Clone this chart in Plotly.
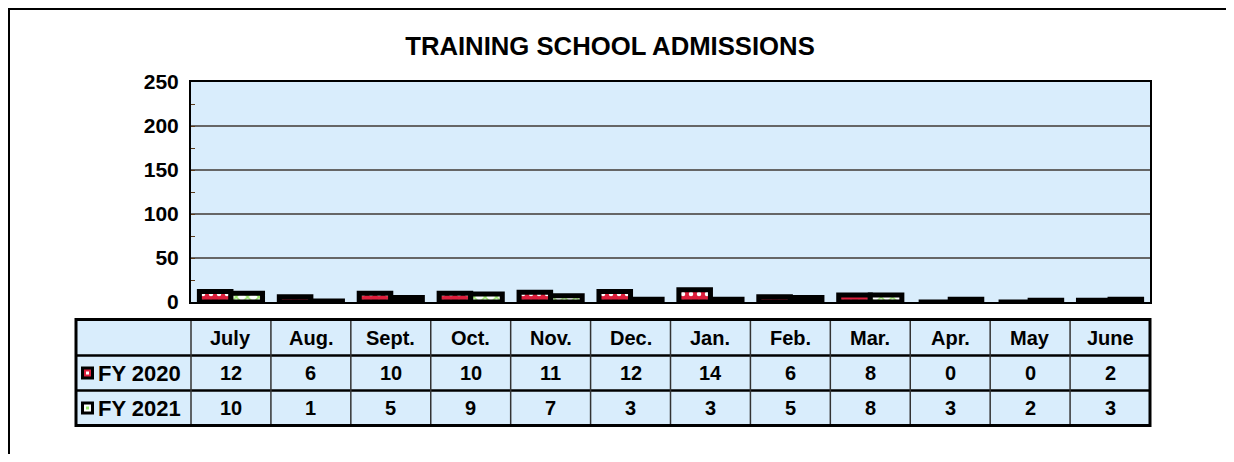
import plotly.graph_objects as go

months = ["July", "Aug.", "Sept.", "Oct.", "Nov.", "Dec.", "Jan.", "Feb.", "Mar.", "Apr.", "May", "June"]
fy2020 = [12, 6, 10, 10, 11, 12, 14, 6, 8, 0, 0, 2]
fy2021 = [10, 1, 5, 9, 7, 3, 3, 5, 8, 3, 2, 3]
series_names = ["FY 2020", "FY 2021"]
title_text = "TRAINING SCHOOL ADMISSIONS"

# page has an 8px body margin: figure starts at page (8, 8)
OFF = 8
W, H = 1234 - 2 * OFF, 462 - 2 * OFF
# plot area in page pixels
PL, PR, PT, PB = 191, 1150, 82, 302
pw, ph = PR - PL, PB - PT

def px_x(px):
    return (px - PL) / pw

def px_y(py):
    return (PB - py) / ph

FONT = "Liberation Sans, Arial, sans-serif"
BG = "#d9edfc"
RED = "#dc1f3c"
GREEN = "#9be86a"

fig = go.Figure()
fig.add_trace(go.Bar(
    x=list(range(len(months))), y=fy2020, name=series_names[0],
    marker=dict(color=RED, line=dict(color="black", width=5),
                pattern=dict(shape=".", fgcolor="white", bgcolor=RED, size=8, solidity=0.25,
                             fillmode="replace")),
    showlegend=False,
))
fig.add_trace(go.Bar(
    x=list(range(len(months))), y=fy2021, name=series_names[1],
    marker=dict(color="white", line=dict(color="black", width=5),
                pattern=dict(shape="x", fgcolor=GREEN, bgcolor="white", size=8, solidity=0.35,
                             fillmode="replace")),
    showlegend=False,
))

shapes = []
annotations = []

# outer frame: only top and left edges fall inside the window
shapes.append(dict(type="line", xref="paper", yref="paper",
                   x0=px_x(OFF + 1), x1=px_x(1240), y0=px_y(OFF + 1), y1=px_y(OFF + 1),
                   line=dict(color="black", width=2), layer="below"))
shapes.append(dict(type="line", xref="paper", yref="paper",
                   x0=px_x(OFF + 1), x1=px_x(OFF + 1), y0=px_y(OFF), y1=px_y(470),
                   line=dict(color="black", width=2), layer="below"))

# table geometry (page pixels)
t_left = 76
rows_px = [319.5, 355.5, 390.5, 425.5]
ty = [px_y(v) for v in rows_px]

shapes.append(dict(type="rect", xref="paper", yref="paper",
                   x0=px_x(t_left), x1=1, y0=ty[3], y1=ty[0],
                   fillcolor=BG, line=dict(width=0), layer="below"))
for k in (1, 2):
    shapes.append(dict(type="line", xref="paper", yref="paper",
                       x0=px_x(t_left), x1=1, y0=ty[k], y1=ty[k],
                       line=dict(color="black", width=2.5)))
shapes.append(dict(type="line", xref="paper", yref="paper",
                   x0=0, x1=0, y0=ty[3], y1=ty[0], line=dict(color="#333333", width=1.5)))
for i in range(len(months) - 1):
    shapes.append(dict(type="line", xref="x", yref="paper",
                       x0=i + 0.5, x1=i + 0.5, y0=ty[3], y1=ty[0],
                       line=dict(color="#333333", width=1.5)))
shapes.append(dict(type="rect", xref="paper", yref="paper",
                   x0=px_x(t_left), x1=1, y0=ty[3], y1=ty[0],
                   line=dict(color="black", width=3), fillcolor="rgba(0,0,0,0)"))

fs = 20
for i, m in enumerate(months):
    annotations.append(dict(x=i, y=(ty[0] + ty[1]) / 2, xref="x", yref="paper",
                            xanchor="center", yanchor="middle",
                            text="<b>%s</b>" % m, showarrow=False,
                            font=dict(family=FONT, size=fs, color="black")))
for r, vals in enumerate([fy2020, fy2021]):
    yc = (ty[r + 1] + ty[r + 2]) / 2
    for i, v in enumerate(vals):
        annotations.append(dict(x=i, y=yc, xref="x", yref="paper",
                                xanchor="center", yanchor="middle",
                                text="<b>%d</b>" % v, showarrow=False,
                                font=dict(family=FONT, size=fs, color="black")))
    annotations.append(dict(x=px_x(96), y=yc, xref="paper", yref="paper",
                            xanchor="left", yanchor="middle",
                            text="<b>%s</b>" % series_names[r], showarrow=False,
                            font=dict(family=FONT, size=22, color="black")))
    ycp = (rows_px[r + 1] + rows_px[r + 2]) / 2
    shapes.append(dict(type="rect", xref="paper", yref="paper",
                       x0=px_x(81), x1=px_x(94), y0=px_y(ycp + 6.5), y1=px_y(ycp - 6.5),
                       fillcolor="black", line=dict(width=0)))
    inner = RED if r == 0 else "white"
    shapes.append(dict(type="rect", xref="paper", yref="paper",
                       x0=px_x(84), x1=px_x(91), y0=px_y(ycp + 3.5), y1=px_y(ycp - 3.5),
                       fillcolor=inner, line=dict(width=0)))
    dot = "white" if r == 0 else GREEN
    shapes.append(dict(type="rect", xref="paper", yref="paper",
                       x0=px_x(86), x1=px_x(89), y0=px_y(ycp + 1.5), y1=px_y(ycp - 1.5),
                       fillcolor=dot, line=dict(width=0)))

fig.update_layout(
    width=W, height=H,
    margin=dict(l=PL - OFF, r=W - (PR - OFF), t=PT - OFF, b=H - (PB - OFF), autoexpand=False),
    paper_bgcolor="white", plot_bgcolor=BG,
    barmode="group", bargap=0.21, bargroupgap=0,
    title=dict(text="<b>%s</b>" % title_text, x=(610 - OFF) / W, xanchor="center",
               y=1 - (46 - OFF) / H, yanchor="middle", xref="container", yref="container",
               font=dict(family=FONT, size=25.7, color="black")),
    shapes=shapes, annotations=annotations,
    xaxis=dict(range=[-0.5, len(months) - 0.5], showticklabels=False, showgrid=False,
               zeroline=False, showline=True, linecolor="black", linewidth=2, mirror=True,
               ticks=""),
    yaxis=dict(range=[0, 250], dtick=50, tick0=0, showgrid=True, gridcolor="#666666", gridwidth=1.5,
               zeroline=False, showline=True, linecolor="black", linewidth=2, mirror=True,
               ticks="inside", ticklen=4, tickcolor="#5a3a1a",
               minor=dict(dtick=25, ticks="inside", ticklen=4, tickcolor="#5a3a1a", showgrid=False),
               tickfont=dict(family=FONT, size=21, color="black", weight="bold"),
               ticklabelstandoff=6),
    font=dict(family=FONT),
)

fig.write_html("out.html", config={"displayModeBar": False})
